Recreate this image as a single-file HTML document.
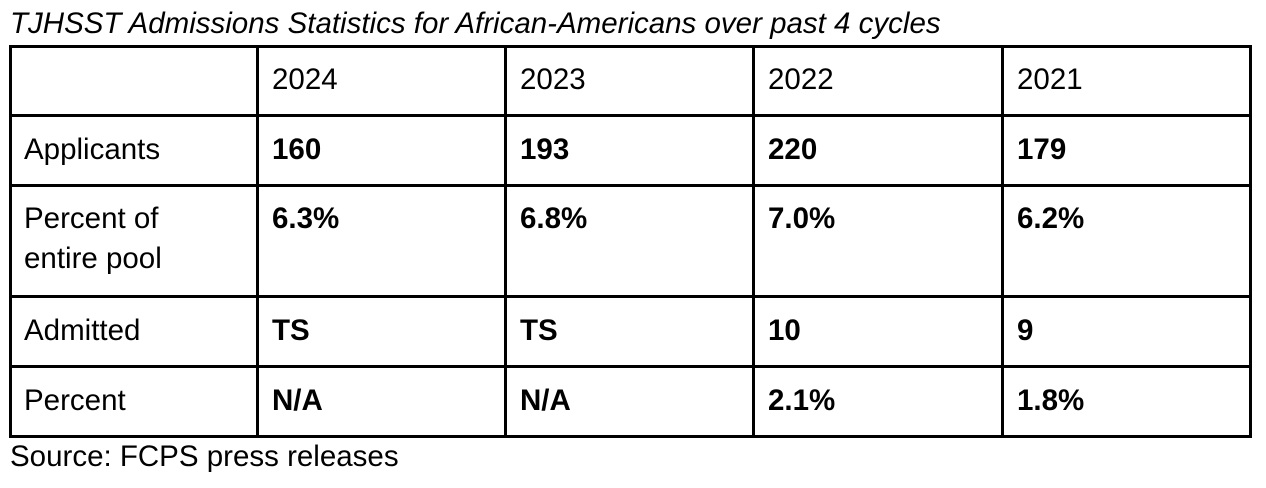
<!DOCTYPE html>
<html><head><meta charset="utf-8"><style>
body{margin:0;width:1266px;height:488px;background:#fff;position:relative;overflow:hidden;font-family:"Liberation Sans",Arial,sans-serif;color:#000}
.l{position:absolute;background:#000}
.t{position:absolute;font-size:29.5px;line-height:32px;white-space:nowrap}
.b{font-weight:bold}
</style></head><body>
<div class="t" style="left:10px;top:8px;font-style:italic">TJHSST Admissions Statistics for African-Americans over past 4 cycles</div>
<div id="tbl"></div>
<div class="t" style="left:10px;top:441px">Source: FCPS press releases</div>
<script>
const years=["2024","2023","2022","2021"];
const rowLabels=["Applicants","Percent of<br>entire pool","Admitted","Percent"];
const applicants=["160","193","220","179"];
const poolPct=["6.3%","6.8%","7.0%","6.2%"];
const admitted=["TS","TS","10","9"];
const admitPct=["N/A","N/A","2.1%","1.8%"];
const colX=[10,257,505,753,1002,1250];
const rowY=[46,115,185,296,366,436];
const root=document.getElementById('tbl');
colX.forEach(x=>{const d=document.createElement('div');d.className='l';


d.style.cssText=`left:${x-1}px;top:${rowY[0]-1}px;width:2.5px;height:${rowY[5]-rowY[0]+2.5}px`;root.appendChild(d);});
rowY.forEach(y=>{const d=document.createElement('div');d.className='l';


d.style.cssText=`left:${colX[0]-1}px;top:${y-1}px;width:${colX[5]-colX[0]+2.5}px;height:2.5px`;root.appendChild(d);});
function cell(html,x,y,bold,name){const d=document.createElement('div');d.className='t'+(bold?' b':'');


d.style.left=x+'px';d.style.top=y+'px';d.innerHTML=html;root.appendChild(d);}
years.forEach((v,i)=>cell(v,colX[i+1]+15,rowY[0]+18,false,'year-header'));
const rows=[applicants,poolPct,admitted,admitPct];
rowLabels.forEach((lab,r)=>{
  const y=rowY[r+1]+(r==1?18:19);
  cell(lab,24,y,false,'row-label');
  if(r==1){root.lastChild.style.lineHeight='40px';root.lastChild.style.top=(y-4)+'px';}
  rows[r].forEach((v,i)=>cell(v,colX[i+1]+15,y,true,'data-cell'));
});
</script>
</body></html>
